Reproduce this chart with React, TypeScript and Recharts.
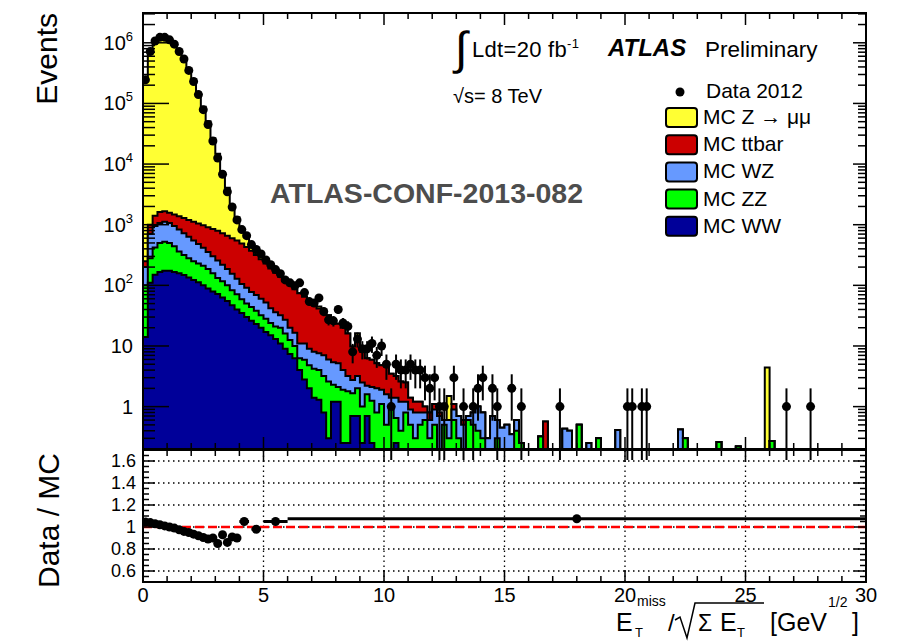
import React from "react"
import { ComposedChart, Area, Scatter, ErrorBar, XAxis, YAxis, ReferenceLine } from "recharts"

const FONT = '"Liberation Sans", Arial, Helvetica, sans-serif'

// binning of the distribution: 150 bins of 0.2 GeV^1/2 from 0 to 30
const BIN_WIDTH = 0.2
const N_BINS = 150

// bin contents for the first 80 bins (0 - 16), stacked bottom to top: WW, ZZ, WZ, ttbar, Z->mumu
const ww = [
  14, 110, 150, 166, 174, 174, 166, 158, 148, 135,
  123, 112, 100, 89, 79, 72, 63, 55, 47, 40,
  35, 30, 26, 23, 20, 17, 15, 13, 11, 9,
  7.4, 6.3, 4, 2.8, 2, 1.4, 1.3, 0.8, 0.3, 1.2,
  1.2, 0.25, 0.25, 0.7, 0.7, 0.25, 0.7, 0.25, 0, 0,
  0, 0, 0.25, 0, 0, 0, 0, 0.1, 0, 0,
  0, 0, 0, 0.1, 0, 0, 0, 0, 0, 0,
  0, 0, 0, 0, 0, 0, 0, 0.2, 0, 0,
]
const zz = [
  86, 170, 270, 334, 351, 326, 274, 202, 168, 145,
  127, 118, 110, 97, 79, 60, 54, 45, 36, 31,
  24, 20, 18, 15, 12, 11, 9, 8, 9, 7,
  5.2, 3.7, 2.3, 3.1, 2.8, 2.8, 2.7, 2.4, 2.3, 1.1,
  0.9, 1.65, 1.55, 0.96, 1.3, 0.75, 0.9, 1.0, 0.8, 1.1,
  0.5, 1.0, 0.4, 0.4, 0.8, 0.5, 0.3, 0.4, 0.6, 0.3,
  0.5, 0.2, 0.5, 0.2, 0.6, 0.3, 0.2, 0.6, 0.5, 0.4,
  0.3, 0, 0.2, 0.3, 0, 0.2, 0, 0.2, 0.25, 0,
]
const wz = [
  100, 430, 535, 570, 595, 570, 515, 470, 409, 350,
  300, 250, 207, 169, 144, 125, 102, 86, 72, 58,
  46, 41, 34, 31, 28, 24, 18, 15, 12, 11,
  7.4, 6.6, 4.7, 5.1, 4.2, 3.8, 3.6, 3.8, 3.4, 3.1,
  3.1, 2.1, 1.4, 1.1, 1.2, 1.5, 0.6, 0.85, 1.2, 0.8,
  1.1, 0.4, 0.75, 0.8, 0.4, 0.4, 0.5, 0.3, 0.2, 0.3,
  0.4, 0.5, 0.1, 0.3, 0.3, 0.4, 0.3, 0.1, 0.3, 0.6,
  0.5, 0.3, 0.5, 0.3, 0.45, 0.3, 0.35, 0.2, 0, 0,
]
const ttbar = [
  50, 290, 455, 550, 540, 510, 525, 550, 565, 570,
  570, 570, 563, 555, 548, 538, 506, 474, 445, 421,
  385, 336, 294, 247, 210, 177, 148, 126, 106, 90,
  80, 70, 63, 54, 46, 40, 34, 29, 26, 22,
  18, 16, 12.8, 7, 9.4, 5.5, 4.1, 3.8, 3.2, 2.9,
  3.0, 2.1, 1.8, 1.4, 1.3, 0.5, 0.4, 0.4, 0.2, 0.2,
  0.2, 0.1, 0, 0, 0.2, 0, 0.1, 0, 0, 0,
  0, 0, 0, 0, 0, 0, 0, 0, 0, 0,
]
const zmumu = [
  235700, 691000, 1038600, 1208400, 1218300, 1118400, 958500, 733600, 558700, 366800,
  245900, 151000, 87000, 49700, 25850, 14000, 6585, 3410, 1540, 780,
  300, 203, 108, 82, 67, 21, 19, 11, 10, 3,
  0, 0, 0, 0, 0, 0, 3, 0, 0, 0,
  0, 0, 0, 0, 3.6, 0, 0, 0, 0, 0,
  0, 0, 0, 0, 0, 0, 0, 0, 0, 0,
  0, 0, 0, 0.9, 0, 0, 0, 0, 0, 0,
  0, 0, 0, 0, 0, 0, 0, 0, 0, 0,
]
const data2012 = [
  245000, 720000, 1070000, 1230000, 1230000, 1120000, 950000, 720000, 540000, 350000,
  230000, 140000, 79000, 45000, 24000, 12600, 6800, 3500, 1950, 1200,
  830, 660, 470, 390, 330, 263, 219, 182, 155, 123,
  110, 98, 110, 76, 54, 51, 62, 37, 27, 26,
  40, 24, 21, 8, 13, 9, 9, 11, 7, 10,
  5, 1, 5, 4, 4, 5, 4, 4, 3, 2,
  3, 1, 1, 0, 3, 0, 1, 0, 1, 2,
  3, 0, 2, 1, 0, 0, 2, 0, 1, 0,
]

// sparse tail above 16: [bin centre, content]
const wwTail: number[][] = []
const zzTail = [[16.5, 0.32], [18.1, 0.5], [18.9, 0.3], [22.5, 0.3], [23.9, 0.26], [24.7, 0.22], [26.1, 0.27]]
const wzTail = [[17.5, 0.43], [17.7, 0.4], [18.5, 0.25], [19.7, 0.41], [22.3, 0.42]]
const ttbarTail = [[16.7, 0.57]]
const zmumuTail = [[25.9, 4.4]]
const dataTail = [[17.3, 1], [20.1, 1], [20.3, 1], [20.7, 1], [20.9, 1], [26.7, 1], [27.7, 1]]

// ratio panel
const ratioX = [0.1, 0.3, 0.5, 0.7, 0.9, 1.1, 1.3, 1.5, 1.7, 1.9, 2.1, 2.3, 2.5, 2.7, 2.9, 3.1, 3.3, 3.5, 3.7, 3.9, 4.2, 4.7, 5.5, 18]
const ratioY = [1.045, 1.04, 1.03, 1.02, 1.01, 1.0, 0.99, 0.975, 0.96, 0.95, 0.935, 0.92, 0.905, 0.89, 0.9, 0.85, 0.93, 0.86, 0.91, 0.9, 1.05, 0.98, 1.05, 1.075]
const ratioXErr = [0, 0, 0, 0, 0, 0, 0, 0, 0, 0, 0, 0, 0, 0, 0, 0, 0, 0, 0, 0, 0.2, 0.2, 0.5, 12]

// axes
const X_TICKS = Array.from({ length: 31 }, (_, i) => i)
const X_MAJOR = [0, 5, 10, 15, 20, 25, 30]
const X_LABELS = ["0", "5", "10", "15", "20", "25", "30"]
const X_GRID = [5, 10, 15, 20, 25]
const LOG_MAJOR = [1, 10, 100, 1000, 1e4, 1e5, 1e6]
const LOG_LABELS = ["1", "10", "10^2", "10^3", "10^4", "10^5", "10^6"]
const RATIO_MAJOR = [0.6, 0.8, 1, 1.2, 1.4, 1.6]
const RATIO_LABELS = ["0.6", "0.8", "1", "1.2", "1.4", "1.6"]

const LOG_DOMAIN = [0.2, 3.1e6]
const RATIO_DOMAIN = [0.5, 1.7]
const FLOOR = 0.01

const COLORS = { z: "#ffff33", tt: "#cc0000", wz: "#6699ff", zz: "#00ff00", ww: "#000099" }

// plot geometry (pixels inside each chart's svg)
const TOP = { left: 143, right: 866, top: 13, bottom: 449 }
const RAT = { left: 143, right: 866, top: 10, bottom: 142 }

function binValue(dense: number[], tail: number[][], i: number) {
  if (i < dense.length) return dense[i]
  const c = (i + 0.5) * BIN_WIDTH
  const hit = tail.find(([x]) => Math.abs(x - c) < 1e-6)
  return hit ? hit[1] : 0
}

// cumulative stack, one row per bin low edge (plus closing edge at 30)
const stackRows: any[] = []
for (let i = 0; i <= N_BINS; i++) {
  const k = Math.min(i, N_BINS - 1)
  const c1 = binValue(ww, wwTail, k)
  const c2 = c1 + binValue(zz, zzTail, k)
  const c3 = c2 + binValue(wz, wzTail, k)
  const c4 = c3 + binValue(ttbar, ttbarTail, k)
  const c5 = c4 + binValue(zmumu, zmumuTail, k)
  stackRows.push({
    x: i * BIN_WIDTH,
    ww: Math.max(c1, FLOOR),
    zz: Math.max(c2, FLOOR),
    wz: Math.max(c3, FLOOR),
    tt: Math.max(c4, FLOOR),
    z: Math.max(c5, FLOOR),
  })
}

const dataPoints: any[] = []
for (let i = 0; i < N_BINS; i++) {
  const n = binValue(data2012, dataTail, i)
  if (n > 0) {
    const e = Math.sqrt(n)
    dataPoints.push({ x: (i + 0.5) * BIN_WIDTH, n, err: [Math.min(e, n - FLOOR), e] })
  }
}

const ratioPoints = ratioX.map((x, i) => ({ x, r: ratioY[i], xerr: ratioXErr[i] }))

const LOG_TICKS: number[] = []
;[0.1, ...LOG_MAJOR].forEach((d) => {
  for (let m = 1; m <= 9; m++) {
    const v = d * m
    if (v >= LOG_DOMAIN[0] && v <= LOG_DOMAIN[1]) LOG_TICKS.push(m === 1 ? d : v)
  }
})
const RATIO_TICKS = Array.from({ length: 25 }, (_, i) => Math.round((0.5 + i * 0.05) * 100) / 100)

const dot = (p: any) => <circle cx={p.cx} cy={p.cy} r={4.5} fill="#000" />

function TopXTick(p: any) {
  const { x, payload } = p
  const major = X_MAJOR.includes(payload.value)
  const len = major ? 12 : 6
  return (
    <g>
      <line x1={x} x2={x} y1={TOP.bottom} y2={TOP.bottom - len} stroke="#000" strokeWidth={1.5} />
      <line x1={x} x2={x} y1={TOP.top} y2={TOP.top + len} stroke="#000" strokeWidth={1.5} />
    </g>
  )
}

function LogYTick(p: any) {
  const { y, payload } = p
  const idx = LOG_MAJOR.indexOf(payload.value)
  const major = idx >= 0
  const [base, exp] = major ? LOG_LABELS[idx].split("^") : ["", ""]
  return (
    <g>
      <line x1={TOP.left} x2={TOP.left + (major ? 26 : 12)} y1={y} y2={y} stroke="#000" strokeWidth={1.5} />
      <line x1={TOP.right - (major ? 13 : 8)} x2={TOP.right} y1={y} y2={y} stroke="#000" strokeWidth={1.5} />
      {major && (
        <text x={TOP.left - 10} y={y + 7} textAnchor="end" fontSize={20} fontFamily={FONT} fill="#000">
          {base}
          {exp && <tspan dy={-9} fontSize={13}>{exp}</tspan>}
        </text>
      )}
    </g>
  )
}

function RatioXTick(p: any) {
  const { x, payload } = p
  const idx = X_MAJOR.indexOf(payload.value)
  const len = idx >= 0 ? 12 : 6
  return (
    <g>
      <line x1={x} x2={x} y1={RAT.bottom} y2={RAT.bottom - len} stroke="#000" strokeWidth={1.5} />
      <line x1={x} x2={x} y1={RAT.top} y2={RAT.top + len} stroke="#000" strokeWidth={1.5} />
      {idx >= 0 && (
        <text x={x} y={RAT.bottom + 20} textAnchor="middle" fontSize={20} fontFamily={FONT} fill="#000">
          {X_LABELS[idx]}
        </text>
      )}
    </g>
  )
}

function RatioYTick(p: any) {
  const { y, payload } = p
  const idx = RATIO_MAJOR.findIndex((v) => Math.abs(v - payload.value) < 1e-6)
  const len = idx >= 0 ? 12 : 6
  return (
    <g>
      <line x1={RAT.left} x2={RAT.left + len} y1={y} y2={y} stroke="#000" strokeWidth={1.5} />
      <line x1={RAT.right - len} x2={RAT.right} y1={y} y2={y} stroke="#000" strokeWidth={1.5} />
      {idx >= 0 && (
        <text x={RAT.left - 7} y={y + 6} textAnchor="end" fontSize={18} fontFamily={FONT} fill="#000">
          {RATIO_LABELS[idx]}
        </text>
      )}
    </g>
  )
}

const LEGEND = [
  { label: "MC Z \u2192 \u03bc\u03bc", color: COLORS.z },
  { label: "MC ttbar", color: COLORS.tt },
  { label: "MC WZ", color: COLORS.wz },
  { label: "MC ZZ", color: COLORS.zz },
  { label: "MC WW", color: COLORS.ww },
]

export default function App() {
  return (
    <div style={{ position: "absolute", left: 0, top: 0, width: 921, height: 642, background: "#fff", fontFamily: FONT }}>
      <div style={{ position: "absolute", left: 0, top: 0 }}>
        <ComposedChart width={921} height={460} data={stackRows} margin={{ top: 13, right: 55, left: 0, bottom: 0 }}>
          <XAxis
            type="number"
            dataKey="x"
            domain={[0, 30]}
            allowDataOverflow
            ticks={X_TICKS}
            interval={0}
            height={11}
            tickSize={0}
            tickMargin={0}
            axisLine={false}
            tickLine={false}
            tick={(p: any) => <TopXTick {...p} />}
          />
          <YAxis
            type="number"
            scale="log"
            domain={LOG_DOMAIN}
            allowDataOverflow
            ticks={LOG_TICKS}
            interval={0}
            width={143}
            tickSize={0}
            tickMargin={0}
            axisLine={false}
            tickLine={false}
            tick={(p: any) => <LogYTick {...p} />}
          />
          <Area type="stepAfter" dataKey="z" stroke="#000" strokeWidth={2} fill={COLORS.z} fillOpacity={1} dot={false} activeDot={false} isAnimationActive={false} />
          <Area type="stepAfter" dataKey="tt" stroke="#000" strokeWidth={2} fill={COLORS.tt} fillOpacity={1} dot={false} activeDot={false} isAnimationActive={false} />
          <Area type="stepAfter" dataKey="wz" stroke="#000" strokeWidth={2} fill={COLORS.wz} fillOpacity={1} dot={false} activeDot={false} isAnimationActive={false} />
          <Area type="stepAfter" dataKey="zz" stroke="#000" strokeWidth={2} fill={COLORS.zz} fillOpacity={1} dot={false} activeDot={false} isAnimationActive={false} />
          <Area type="stepAfter" dataKey="ww" stroke="#000" strokeWidth={2} fill={COLORS.ww} fillOpacity={1} dot={false} activeDot={false} isAnimationActive={false} />
          <Scatter data={dataPoints} dataKey="n" shape={dot} isAnimationActive={false}>
            <ErrorBar dataKey="err" direction="y" width={0} stroke="#000" strokeWidth={2} />
          </Scatter>
        </ComposedChart>
      </div>

      <div style={{ position: "absolute", left: 0, top: 440 }}>
        <ComposedChart width={921} height={202} data={ratioPoints} margin={{ top: 10, right: 55, left: 0, bottom: 0 }}>
          <XAxis
            type="number"
            dataKey="x"
            domain={[0, 30]}
            allowDataOverflow
            ticks={X_TICKS}
            interval={0}
            height={60}
            tickSize={0}
            tickMargin={0}
            axisLine={false}
            tickLine={false}
            tick={(p: any) => <RatioXTick {...p} />}
          />
          <YAxis
            type="number"
            domain={RATIO_DOMAIN}
            allowDataOverflow
            ticks={RATIO_TICKS}
            interval={0}
            width={143}
            tickSize={0}
            tickMargin={0}
            axisLine={false}
            tickLine={false}
            tick={(p: any) => <RatioYTick {...p} />}
          />
          {X_GRID.map((v) => (
            <ReferenceLine key={"gx" + v} x={v} stroke="#000" strokeWidth={1.3} strokeDasharray="1.5 3.5" />
          ))}
          {RATIO_MAJOR.map((v) => (
            <ReferenceLine key={"gy" + v} y={v} stroke="#000" strokeWidth={1.3} strokeDasharray="1.5 3.5" />
          ))}
          <ReferenceLine y={1} stroke="#ff0000" strokeWidth={2.5} strokeDasharray="9 4" />
          <Scatter dataKey="r" shape={dot} isAnimationActive={false}>
            <ErrorBar dataKey="xerr" direction="x" width={0} stroke="#000" strokeWidth={3} />
          </Scatter>
        </ComposedChart>
      </div>

      <svg width={921} height={642} style={{ position: "absolute", left: 0, top: 0, pointerEvents: "none" }} fontFamily={FONT}>
        <rect x={TOP.left} y={TOP.top} width={TOP.right - TOP.left} height={TOP.bottom - TOP.top} fill="none" stroke="#000" strokeWidth={2} />
        <rect x={RAT.left} y={RAT.top + 440} width={RAT.right - RAT.left} height={RAT.bottom - RAT.top} fill="none" stroke="#000" strokeWidth={2} />

        <text transform="translate(57,13) rotate(-90)" textAnchor="end" fontSize={30} fill="#000">Events</text>
        <text transform="translate(59,453) rotate(-90)" textAnchor="end" fontSize={30} fill="#000">Data / MC</text>

        <text x={616} y={631} fontSize={25}>E</text>
        <text x={637} y={606} fontSize={14}>miss</text>
        <text x={635} y={637} fontSize={13}>T</text>
        <text x={668} y={631} fontSize={24}>/</text>
        <path d="M675 620 L680 617 L687 638 L695 603 L764 603" fill="none" stroke="#000" strokeWidth={1.5} />
        <text x={698} y={631} fontSize={23}>{"\u03a3"}</text>
        <text x={720} y={631} fontSize={25}>E</text>
        <text x={737} y={637} fontSize={13}>T</text>
        <text x={770} y={631} fontSize={25}>[GeV</text>
        <text x={828} y={607} fontSize={14}>1/2</text>
        <text x={852} y={631} fontSize={25}>]</text>

        <text x={455} y={64} fontSize={46}>{"\u222b"}</text>
        <text x={472} y={57} fontSize={22} letterSpacing={0.3}>
          Ldt=20 fb<tspan dy={-9} fontSize={13}>-1</tspan>
        </text>
        <text x={608} y={56} fontSize={24} fontWeight="bold" fontStyle="italic">ATLAS</text>
        <text x={705} y={57} fontSize={22.5}>Preliminary</text>
        <text x={453} y={103} fontSize={20}>{"\u221as= 8 TeV"}</text>
        <text x={270} y={203} fontSize={28.5} fontWeight="bold" fill="#4d4d4d">ATLAS-CONF-2013-082</text>

        <circle cx={680} cy={92} r={4.5} fill="#000" />
        <text x={706} y={98} fontSize={21}>Data 2012</text>
        {LEGEND.map((l, i) => (
          <g key={l.label}>
            <rect x={666} y={108 + i * 27.2} width={31} height={19} rx={3} fill={l.color} stroke="#000" strokeWidth={2} />
            <text x={703} y={124 + i * 27.2} fontSize={21}>{l.label}</text>
          </g>
        ))}
      </svg>
    </div>
  )
}
